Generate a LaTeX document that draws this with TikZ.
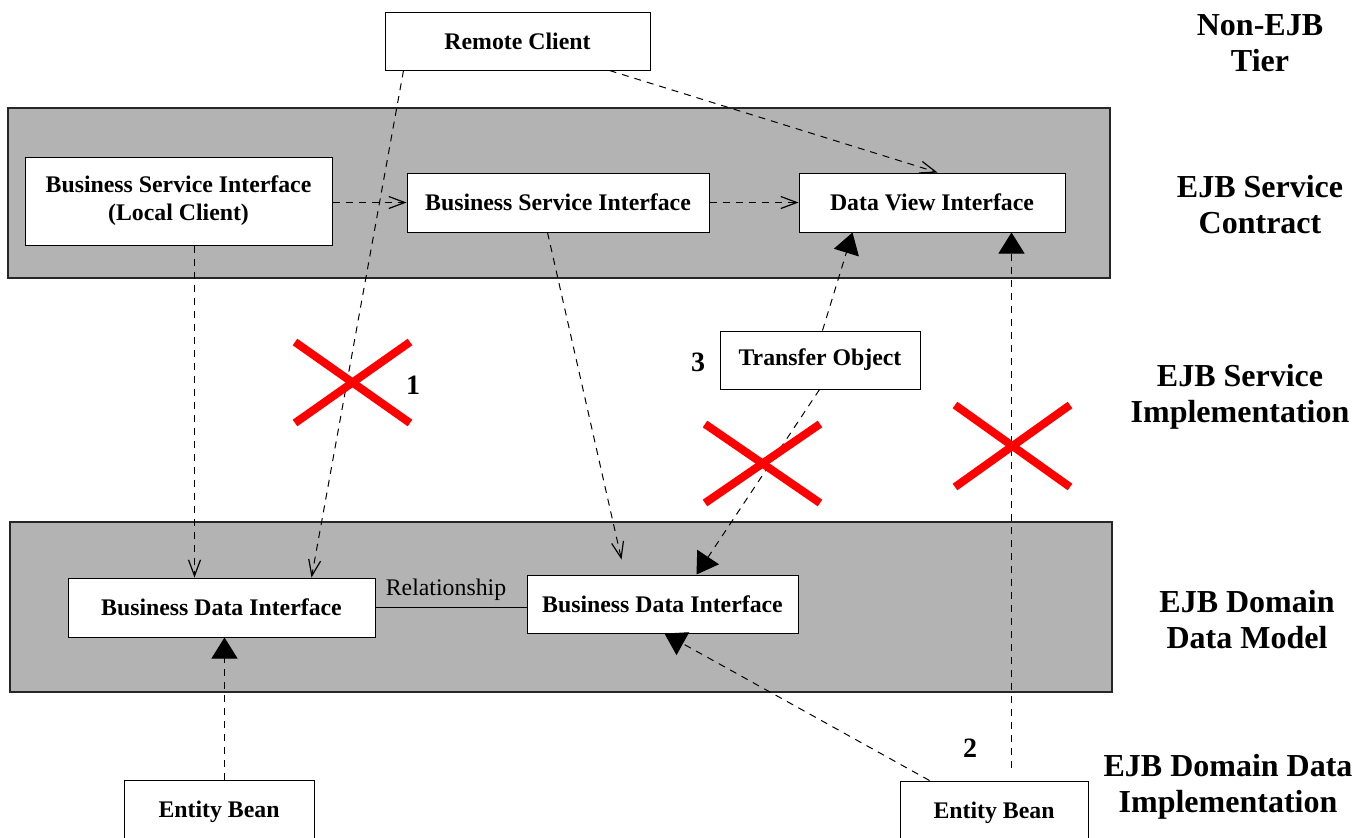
\documentclass[tikz,border=0pt]{standalone}
\usepackage{fontspec}
\setmainfont{Liberation Serif}
\usetikzlibrary{arrows.meta,calc}

\definecolor{bandgray}{RGB}{179,179,179}
\definecolor{xred}{RGB}{255,0,0}

\begin{document}
\begin{tikzpicture}[x=0.5pt,y=-0.5pt,
  boxfont/.style={font=\fontsize{11.9}{14}\selectfont\bfseries},
  box/.style={draw=black, fill=white, line width=0.5pt, boxfont, align=center, inner sep=0pt},
  wh/.style 2 args={minimum width=#1*0.5pt, minimum height=#2*0.5pt},
  band/.style={draw=black!85, fill=bandgray, line width=0.8pt},
  tier/.style={font=\fontsize{16}{18}\selectfont\bfseries, align=center},
  num/.style={font=\fontsize{14}{16}\selectfont\bfseries},
  dashline/.style={line width=0.5pt, dash pattern=on 3.5pt off 3pt},
  dep/.style={dashline, -{Straight Barb[length=8pt,width=6pt,line width=0.6pt]}},
  realize/.style={dashline, -{Triangle[length=10.5pt,width=13pt]}},
  cross/.style={draw=xred, line width=4pt}
]
\useasboundingbox (0,0) rectangle (1364,837);

% tier bands
\draw[band] (8,108) rectangle (1110,278);
\draw[band] (10,522) rectangle (1112,692);

% tier captions
\node[tier] (tNon) at (1260,43.5) {Non-EJB\\Tier};
\node[tier] (tCon) at (1260,204.5) {EJB Service\\Contract};
\node[tier] (tImp) at (1240,397) {EJB Service\\Implementation};
\node[tier] (tDom) at (1247,619.5) {EJB Domain\\Data Model};
\node[tier] (tDat) at (1228,787) {EJB Domain Data\\Implementation};

% classes
\node[box, wh={265}{58}] (rc) at (517.5,41) {Remote Client};
\node[box, wh={307}{88}] (bsil) at (178.5,201) {Business Service Interface\\(Local Client)};
\node[box, wh={302}{59}] (bsi) at (558,202.5) {Business Service Interface};
\node[box, wh={266}{59}] (dvi) at (932,202.5) {Data View Interface};
\node[box, wh={200}{58}] (to) at (820,360) {Transfer Object};
\node[box, wh={307}{59}] (bdil) at (221.5,607.5) {Business Data Interface};
\node[box, wh={271}{58}] (bdir) at (662.5,604) {Business Data Interface};
\node[box, wh={190}{64}] (ebl) at (219,812) {Entity Bean};
\node[box, wh={188}{64}] (ebr) at (994,813) {Entity Bean};

% relationship between the data interfaces
\draw[line width=0.6pt] (bdil.east) -- (bdil.east -| bdir.west);
\node[font=\fontsize{11.9}{14}\selectfont] (rel) at (446,590) {Relationship};

% dependencies
\draw[dep] ($(rc.south west)+(19,0)$) -- ($(bdil.north west)+(244,0)$);
\draw[dep] ($(rc.south west)+(225,0)$) -- ($(dvi.north west)+(139,0)$);
\draw[dep] (bsil.east |- bsi.west) -- (bsi.west);
\draw[dep] (bsi.east) -- (dvi.west);
\draw[dep] ($(bsil.south west)+(170,0)$) -- ($(bdil.north west)+(127,0)$);
\draw[dep] ($(bsi.south west)+(141,0)$) -- ($(bdir.north west)+(95,-15)$);

% transfer object links
\draw[realize] ($(to.north west)+(103,0)$) -- ($(dvi.south west)+(54,0)$);
\draw[realize] ($(to.south west)+(100,0)$) -- ($(bdir.north west)+(170,0)$);

% entity bean implementations
\draw[realize] ($(ebl.north west)+(101,0)$) -- ($(bdil.south west)+(157,0)$);
\draw[realize] ($(ebr.north west)+(30,0)$) -- ($(bdir.south west)+(138,0)$);
\draw[realize] ($(ebr.north west)+(112,-13)$) -- ($(dvi.south west)+(213,0)$);

% forbidden paths
\draw[cross] (295,342) -- (410,423);
\draw[cross] (410,342) -- (295,423);
\draw[cross] (705,424) -- (820,503);
\draw[cross] (820,424) -- (705,503);
\draw[cross] (955,405) -- (1070,487);
\draw[cross] (1070,405) -- (955,487);

% path numbers
\node[num] (n1) at (413,385) {1};
\node[num] (n3) at (698,362) {3};
\node[num] (n2) at (970,748) {2};
\end{tikzpicture}
\end{document}
